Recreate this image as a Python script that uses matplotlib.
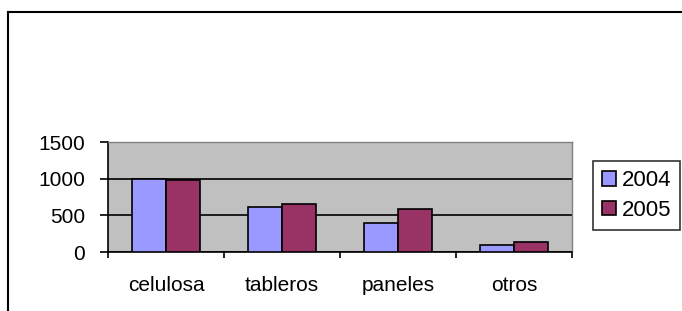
import numpy as np
import matplotlib
matplotlib.use("Agg")
import matplotlib.pyplot as plt
from matplotlib.lines import Line2D

# datos
categorias = ["celulosa", "tableros", "paneles", "otros"]
anios = ["2004", "2005"]
valores_2004 = [1000, 610, 390, 95]
valores_2005 = [980, 655, 590, 140]

plt.rcParams['font.family'] = ['Liberation Sans', 'DejaVu Sans']

W, H = 682, 311
PT = 72 / 100  # px -> pt
fig = plt.figure(figsize=(W / 100, H / 100), dpi=100)
fig.patch.set_facecolor('white')

# marco del recorte (solo arriba e izquierda)
fig.add_artist(Line2D([8 / W, 1], [1 - 12 / H, 1 - 12 / H], color='black', lw=1.5))
fig.add_artist(Line2D([8 / W, 8 / W], [0, 1 - 12 / H], color='black', lw=1.5))

ax = fig.add_axes([108 / W, 1 - 252 / H, (572 - 108) / W, (252 - 142) / H])
ax.set_facecolor('#C0C0C0')

x = np.arange(len(categorias))
width = 0.29

r1 = ax.bar(x - width / 2, valores_2004, width, color='#9999FF', edgecolor='black',
            linewidth=1.2, label=anios[0], zorder=3)
r2 = ax.bar(x + width / 2, valores_2005, width, color='#993366', edgecolor='black',
            linewidth=1.2, label=anios[1], zorder=3)

ax.set_xlim(-0.5, len(categorias) - 0.5)
ax.set_ylim(0, 1500)
ax.set_yticks([0, 500, 1000, 1500])
ax.yaxis.grid(True, color='black', linewidth=1.2, zorder=1)
ax.set_axisbelow(True)

ax.set_xticks(x)
ax.set_xticklabels(categorias)
ax.set_xticks(np.arange(len(categorias) + 1) - 0.5, minor=True)
ax.tick_params(axis='x', which='major', length=0, pad=17, labelsize=15)
ax.tick_params(axis='x', which='minor', length=6 * PT, width=1.2, direction='out')
ax.tick_params(axis='y', length=8 * PT, width=1.2, pad=15 * PT, labelsize=15)

for s in ['top', 'right']:
    ax.spines[s].set_color('#808080')
    ax.spines[s].set_linewidth(1)
for s in ['left', 'bottom']:
    ax.spines[s].set_color('black')
    ax.spines[s].set_linewidth(1.2)

leg = fig.legend(loc='upper left', bbox_to_anchor=(593 / W, 1 - 161 / H),
                 fontsize=16, frameon=True, fancybox=False, edgecolor='black',
                 handlelength=0.65, handleheight=0.65, handletextpad=0.25,
                 borderpad=0.4, labelspacing=0.4, borderaxespad=0)
leg.get_frame().set_linewidth(1.2)

fig.savefig("out.png", dpi=100, facecolor='white')
